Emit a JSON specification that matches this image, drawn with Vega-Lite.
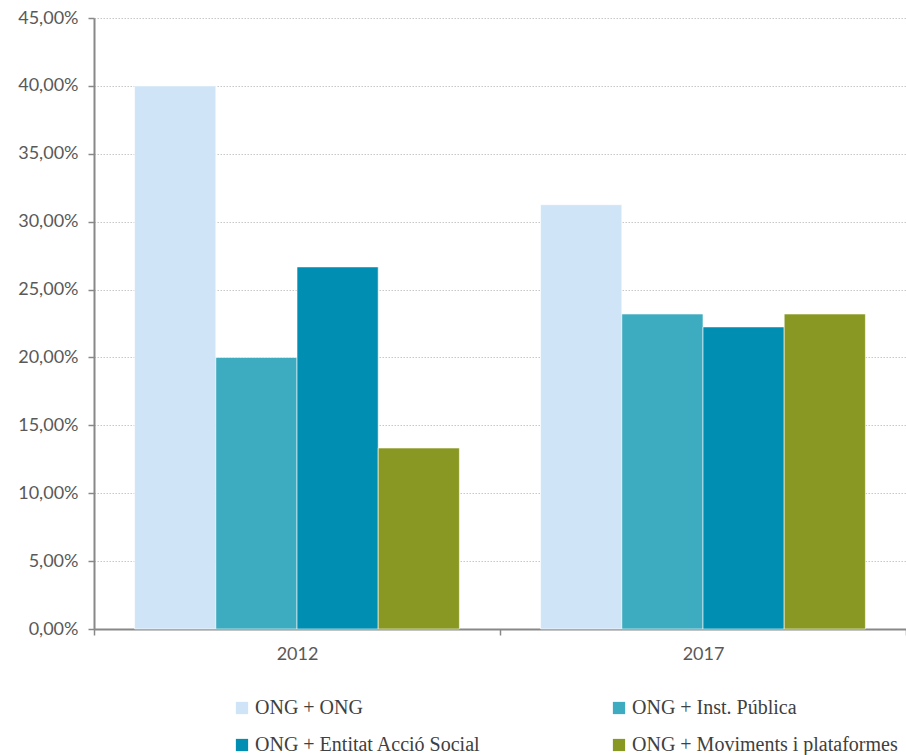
{
  "$schema": "https://vega.github.io/schema/vega-lite/v6.json",
  "autosize": {"type": "none"},
  "padding": {"left": 94, "top": 18, "right": 0, "bottom": 126},
  "width": 812,
  "height": 611,
  "background": "white",
  "config": {
    "locale": {"number": {"decimal": ",", "thousands": ".", "grouping": [3], "currency": ["", " €"]}},
    "view": {"stroke": null},
    "font": "Lato"
  },
  "data": {
    "values": [
      {"year": "2012", "cat": "ONG + ONG", "value": 0.40},
      {"year": "2012", "cat": "ONG + Inst. Pública", "value": 0.20},
      {"year": "2012", "cat": "ONG + Entitat  Acció Social", "value": 0.2667},
      {"year": "2012", "cat": "ONG + Moviments i plataformes", "value": 0.1333},
      {"year": "2017", "cat": "ONG + ONG", "value": 0.3125},
      {"year": "2017", "cat": "ONG + Inst. Pública", "value": 0.232},
      {"year": "2017", "cat": "ONG + Entitat  Acció Social", "value": 0.2225},
      {"year": "2017", "cat": "ONG + Moviments i plataformes", "value": 0.232}
    ]
  },
  "mark": {"type": "bar", "stroke": "white", "strokeWidth": 0.6},
  "encoding": {
    "x": {
      "field": "year", "type": "nominal",
      "scale": {"paddingInner": 0, "paddingOuter": 0},
      "axis": {
        "title": null, "labelAngle": 0, "tickBand": "extent",
        "domainColor": "#888888", "domainWidth": 2, "tickColor": "#888888", "tickWidth": 1.5, "tickSize": 6,
        "labelFont": "Lato", "labelFontSize": 18, "labelColor": "#595959", "labelPadding": 10
      }
    },
    "xOffset": {
      "field": "cat", "type": "nominal",
      "sort": ["ONG + ONG", "ONG + Inst. Pública", "ONG + Entitat  Acció Social", "ONG + Moviments i plataformes"],
      "scale": {"paddingInner": 0, "paddingOuter": 0.5}
    },
    "y": {
      "field": "value", "type": "quantitative",
      "scale": {"domain": [0, 0.45], "nice": false},
      "axis": {
        "title": null, "format": ".2%", "values": [0, 0.05, 0.1, 0.15, 0.2, 0.25, 0.3, 0.35, 0.4, 0.45],
        "grid": true, "gridColor": "#c8c8c8", "gridDash": [1.5, 1.5], "gridWidth": 1.2,
        "domainColor": "#888888", "domainWidth": 2, "tickColor": "#888888", "tickWidth": 1.5, "tickSize": 6,
        "labelFont": "Lato", "labelFontSize": 18, "labelColor": "#595959", "labelPadding": 10
      }
    },
    "color": {
      "field": "cat", "type": "nominal",
      "sort": ["ONG + ONG", "ONG + Inst. Pública", "ONG + Entitat  Acció Social", "ONG + Moviments i plataformes"],
      "scale": {
        "domain": ["ONG + ONG", "ONG + Inst. Pública", "ONG + Entitat  Acció Social", "ONG + Moviments i plataformes"],
        "range": ["#cfe4f6", "#3eacc0", "#008fb3", "#889822"]
      },
      "legend": {
        "title": null, "orient": "none", "legendX": 138, "legendY": 680, "direction": "horizontal", "columns": 2,
        "symbolType": "square", "symbolSize": 150, "symbolStrokeWidth": 0,
        "labelFont": "Liberation Serif", "labelFontSize": 20, "labelColor": "#404040", "labelOffset": 3,
        "columnPadding": 88, "rowPadding": 17, "labelLimit": 400, "gridAlign": "all"
      }
    }
  }
}
